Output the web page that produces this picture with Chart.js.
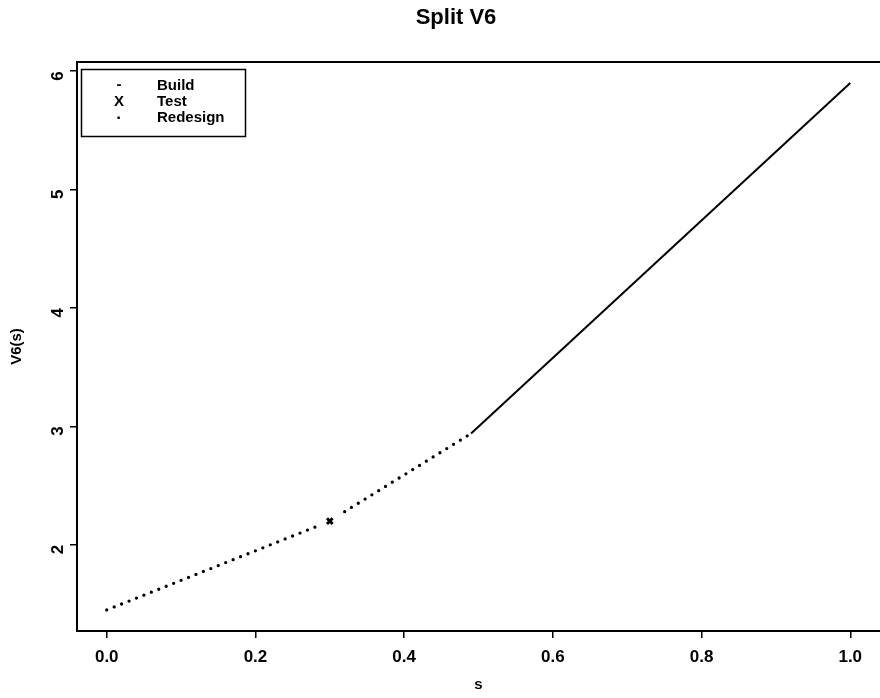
<!DOCTYPE html>
<html>
<head>
<meta charset="utf-8">
<script src="https://cdn.jsdelivr.net/npm/chart.js@4/dist/chart.umd.min.js"></script>
<style>
  html, body { margin: 0; padding: 0; background: #fff; }
  #wrap { width: 880px; height: 698px; }
</style>
</head>
<body>
<div id="wrap"><canvas id="c"></canvas></div>
<script>
var chartTitle = "Split V6";
var xTitle = "s";
var yTitle = "V6(s)";
var xTicks = [0.0, 0.2, 0.4, 0.6, 0.8, 1.0];
var yTicks = [2, 3, 4, 5, 6];

// Build (solid)
var buildX = [0.49, 1.0];
var buildY = [2.94, 5.9];
// Test (marker)
var testX = [0.3];
var testY = [2.2];
// Redesign (dotted), gap around the test marker
var redesignX = [0.0, 0.283, 0.30, 0.32, 0.49];
var redesignY = [1.45, 2.157, null, 2.28, 2.94];

var legendNames = ["Build", "Test", "Redesign"];
var legendSymbols = ["-", "X", "\u00b7"];

function pts(xs, ys) {
  return xs.map(function (x, i) { return { x: x, y: ys[i] }; });
}

var FONT = "'Liberation Sans', Arial, Helvetica, sans-serif";

var frame = {
  id: 'frame',
  afterDraw: function (chart) {
    var ctx = chart.ctx, a = chart.chartArea;
    ctx.save();
    ctx.strokeStyle = '#000';
    ctx.lineWidth = 2;
    ctx.strokeRect(a.left, a.top, a.right - a.left + 4, a.bottom - a.top);

    // title
    ctx.fillStyle = '#000';
    ctx.font = 'bold 22px ' + FONT;
    ctx.textAlign = 'center';
    ctx.textBaseline = 'middle';
    ctx.fillText(chartTitle, 456, 18);

    // legend box
    ctx.lineWidth = 1.5;
    ctx.strokeRect(81.5, 69.5, 164, 67);
    var rows = [86, 102, 118];
    for (var i = 0; i < legendNames.length; i++) {
      ctx.textAlign = 'center';
      ctx.font = 'bold ' + (i == 2 ? 17 : 15) + 'px ' + FONT;
      ctx.fillText(legendSymbols[i], 119, rows[i] + (i == 0 ? -1 : 0));
      ctx.textAlign = 'left';
      ctx.font = 'bold 15px ' + FONT;
      ctx.fillText(legendNames[i], 157, rows[i]);
    }
    ctx.restore();
  }
};

new Chart(document.getElementById('c'), {
  type: 'scatter',
  data: {
    datasets: [
      {
        label: 'Build',
        data: pts(buildX, buildY),
        showLine: true,
        borderColor: '#000',
        borderWidth: 2,
        pointRadius: 0
      },
      {
        label: 'Test',
        data: pts(testX, testY),
        showLine: false,
        pointStyle: 'crossRot',
        pointRadius: 4,
        borderColor: '#000',
        borderWidth: 3
      },
      {
        label: 'Redesign',
        data: pts(redesignX, redesignY),
        showLine: true,
        spanGaps: false,
        borderColor: '#000',
        borderWidth: 3.3,
        borderCapStyle: 'round',
        borderDash: [0, 8],
        pointRadius: 0
      }
    ]
  },
  options: {
    responsive: true,
    maintainAspectRatio: false,
    animation: false,
    layout: { autoPadding: false, padding: { top: 62, right: 0, left: 0, bottom: 0 } },
    plugins: {
      legend: { display: false },
      tooltip: { enabled: false }
    },
    scales: {
      x: {
        type: 'linear',
        min: -0.04,
        max: 1.04,
        afterBuildTicks: function (s) { s.ticks = xTicks.map(function (v) { return { value: v }; }); },
        afterFit: function (s) { s.height = 67; s.paddingLeft = 0; s.paddingRight = 0; },
        grid: { drawOnChartArea: false, drawTicks: true, tickLength: 7, color: '#000', lineWidth: 1.5 },
        border: { display: false },
        ticks: {
          color: '#000',
          font: { family: FONT, size: 17, weight: 'bold' },
          padding: 9,
          maxRotation: 0,
          callback: function (v) { return v.toFixed(1); }
        },
        title: {
          display: true, text: xTitle, color: '#000',
          font: { family: FONT, size: 15, weight: 'bold' },
          padding: { top: 0, bottom: 4 }
        }
      },
      y: {
        type: 'linear',
        min: 1.272,
        max: 6.078,
        afterBuildTicks: function (s) { s.ticks = yTicks.map(function (v) { return { value: v }; }); },
        afterFit: function (s) { s.width = 77; s.paddingTop = 0; s.paddingBottom = 0; },
        grid: { drawOnChartArea: false, drawTicks: true, tickLength: 7, color: '#000', lineWidth: 1.5 },
        border: { display: false },
        ticks: {
          color: '#000',
          font: { family: FONT, size: 17, weight: 'bold' },
          padding: 12,
          minRotation: 90,
          maxRotation: 90,
          callback: function (v) { return String(v); }
        },
        title: {
          display: true, text: yTitle, color: '#000',
          font: { family: FONT, size: 15, weight: 'bold' },
          padding: { top: 8, bottom: 8 }
        }
      }
    }
  },
  plugins: [frame]
});
</script>
</body>
</html>
